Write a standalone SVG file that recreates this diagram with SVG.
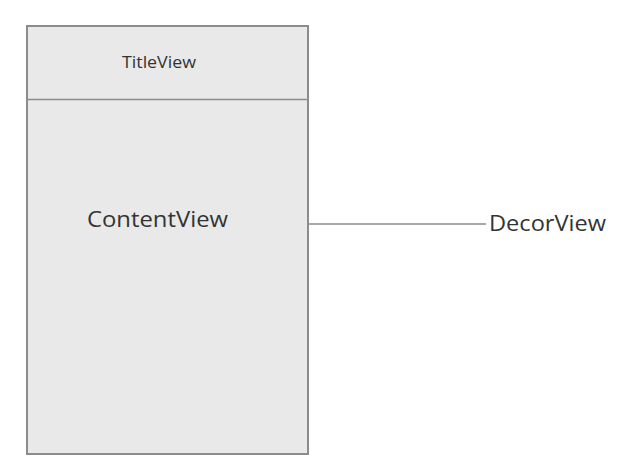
<svg xmlns="http://www.w3.org/2000/svg" width="623" height="472" viewBox="0 0 623 472">
<style>
.t{font-family:"Open Sans","Noto Sans",sans-serif;fill:#333333}
.box{fill:#e9e9e9;stroke:#8c8c8c;stroke-width:2}
.ln{stroke:#8c8c8c;stroke-width:1.3;fill:none}
</style>
<rect width="623" height="472" fill="#ffffff"/>
<g id="DecorView">
<rect class="box" x="27" y="26" width="281" height="428"/>
<text class="t" x="489" y="231" font-size="21" textLength="117" lengthAdjust="spacingAndGlyphs">DecorView</text>
</g>
<g id="TitleView">
<line class="ln" x1="27" y1="99.5" x2="308" y2="99.5"/>
<text class="t" x="122" y="68" font-size="16.5" textLength="74" lengthAdjust="spacingAndGlyphs">TitleView</text>
</g>
<g id="ContentView">
<text class="t" x="87" y="227" font-size="22" textLength="141" lengthAdjust="spacingAndGlyphs">ContentView</text>
</g>
<g id="connectors">
<line class="ln" x1="308" y1="224" x2="486" y2="224"/>
</g>
</svg>
